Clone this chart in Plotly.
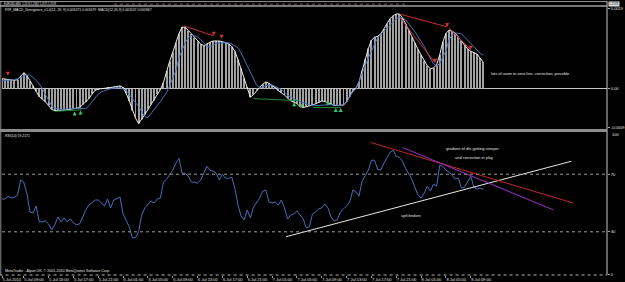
import plotly.graph_objects as go

# ---------------- data ----------------
bar_index = list(range(156))

# MACD main line / histogram, in units of 1e-4
macd_e4 = [2.40, 2.30, 2.21, 2.11, 2.02, 2.16, 3.00, 3.84, 3.22, 1.87,
           0.65, -0.60, -1.92, -2.54, -3.12, -4.08, -4.99, -5.28, -5.28, -5.28,
           -5.16, -5.09, -4.99, -4.85, -4.70, -4.56, -3.84, -3.22, -2.40, -1.30,
           -0.41, -0.10, 0.05, 0.12, 0.19, 0.29, 0.43, 0.55, 0.67, 0.26,
           -1.15, -2.95, -5.28, -7.08, -8.40, -7.44, -6.24, -5.04, -3.84, -2.83,
           -1.30, -0.24, 1.44, 4.32, 6.60, 8.76, 11.04, 13.27, 14.83, 14.78,
           14.04, 13.20, 12.24, 11.35, 10.75, 10.34, 10.80, 11.18, 11.47, 11.52,
           11.47, 11.33, 11.09, 10.80, 10.18, 8.98, 7.03, 4.85, 2.54, 0.31,
           -2.04, -1.44, -0.41, 0.34, 1.08, 1.61, 1.30, 0.86, 0.24, -0.48,
           -0.96, -1.54, -2.28, -2.93, -3.24, -3.58, -4.32, -4.51, -4.37, -4.20,
           -3.91, -3.65, -3.31, -2.98, -3.07, -3.36, -3.70, -4.03, -4.08, -4.08,
           -3.96, -3.12, -1.92, -0.48, 0.14, 1.63, 4.32, 7.10, 9.65, 11.66,
           12.38, 12.60, 13.20, 14.40, 15.65, 16.87, 17.57, 18.00, 18.00, 17.11,
           15.65, 14.04, 12.41, 10.99, 9.48, 8.11, 6.72, 5.52, 4.80, 5.02,
           5.76, 8.16, 11.28, 13.32, 14.09, 13.85, 13.34, 12.48, 11.52, 10.46,
           9.58, 9.02, 8.71, 8.35, 7.39, 6.41]

# signal line, units of 1e-4
signal_e4 = [1.92, 1.97, 2.04, 2.09, 2.16, 2.40, 2.71, 3.02, 3.22, 3.34,
             2.74, 1.99, 1.10, 0.00, -1.44, -2.81, -4.08, -4.68, -4.92, -5.04,
             -4.92, -4.85, -4.80, -4.80, -4.80, -4.80, -4.80, -4.80, -4.08, -3.12,
             -2.16, -1.32, -0.77, -0.48, -0.17, 0.02, 0.12, 0.19, 0.24, -0.07,
             -0.48, -1.44, -2.54, -3.36, -4.32, -5.52, -6.72, -6.96, -6.00, -5.28,
             -4.32, -3.12, -2.04, -0.96, 0.72, 2.40, 4.32, 7.44, 9.36, 11.04,
             12.24, 12.84, 12.84, 12.48, 11.81, 11.04, 10.20, 10.08, 10.56, 10.92,
             11.04, 11.04, 11.04, 11.04, 10.73, 10.32, 9.84, 8.64, 7.08, 5.64,
             4.18, 2.40, 0.84, 0.24, 0.48, 0.70, 0.82, 0.91, 0.58, 0.26,
             -0.19, -0.84, -1.58, -1.99, -2.45, -2.78, -3.07, -3.36, -3.67, -3.91,
             -3.98, -4.06, -4.08, -3.98, -3.91, -3.84, -3.84, -3.91, -3.98, -4.08,
             -3.72, -3.24, -1.92, -0.72, -0.12, 1.80, 3.60, 5.76, 7.44, 9.00,
             10.66, 12.24, 13.08, 13.92, 14.52, 15.26, 16.08, 16.80, 17.16, 17.11,
             16.56, 15.72, 14.71, 13.73, 12.53, 11.35, 10.20, 8.64, 7.20, 6.00,
             5.52, 6.00, 7.68, 9.12, 11.76, 12.96, 13.44, 13.32, 13.20, 12.48,
             11.64, 10.80, 9.96, 9.12, 8.52, 8.04]

rsi_values = [52.8, 52.8, 54.8, 53.4, 54.1, 55.5, 65.9, 64.5, 56.9, 43.8,
              43.1, 47.9, 36.9, 36.9, 37.6, 35.5, 31.4, 34.8, 40.3, 36.9,
              39.7, 36.9, 39.0, 36.2, 34.8, 35.5, 40.3, 45.2, 48.6, 50.7,
              52.1, 52.1, 50.0, 47.9, 52.8, 46.6, 52.1, 53.4, 54.1, 42.4,
              38.3, 33.4, 25.9, 25.9, 30.0, 41.7, 46.6, 49.3, 51.4, 50.0,
              52.8, 53.4, 64.5, 66.6, 69.3, 72.8, 77.6, 81.0, 70.7, 70.7,
              68.6, 64.5, 64.5, 63.8, 65.9, 70.7, 75.5, 72.8, 72.1, 70.7,
              65.9, 70.0, 67.2, 67.2, 67.9, 60.3, 48.6, 41.0, 38.3, 45.2,
              39.7, 47.2, 50.0, 53.4, 58.3, 59.0, 50.7, 50.0, 50.7, 48.6,
              52.1, 46.6, 39.0, 41.7, 42.4, 44.5, 41.7, 39.0, 32.8, 33.4,
              42.4, 43.8, 45.9, 46.6, 49.3, 46.6, 40.3, 37.6, 38.3, 43.8,
              45.9, 47.9, 50.7, 59.0, 57.6, 54.8, 65.2, 69.3, 72.8, 79.7,
              79.7, 73.4, 72.8, 77.6, 81.7, 85.2, 86.6, 82.4, 81.7, 79.0,
              74.1, 70.7, 66.6, 61.0, 55.5, 53.4, 56.9, 61.7, 58.3, 63.1,
              61.7, 76.2, 75.5, 72.8, 71.4, 69.3, 66.6, 67.2, 60.3, 61.0,
              64.5, 68.6, 61.0, 59.7, 60.3, 59.7]

tick_idx = [0, 7, 15, 23, 31, 39, 47, 55, 63, 71, 79, 87, 95, 103, 111, 119, 127, 135, 143, 151]
tick_text = ["5 Jul 2010", "5 Jul 09:00", "5 Jul 13:00", "5 Jul 17:00", "5 Jul 21:00",
             "6 Jul 01:00", "6 Jul 05:00", "6 Jul 09:00", "6 Jul 13:00", "6 Jul 17:00",
             "6 Jul 21:00", "7 Jul 01:00", "7 Jul 05:00", "7 Jul 09:00", "7 Jul 13:00",
             "7 Jul 17:00", "7 Jul 21:00", "8 Jul 01:00", "8 Jul 05:00", "8 Jul 09:00"]

macd_ticks = [0.00192, 0.0, -0.00094]
macd_tick_text = ["0.0019", "0.00", "-0.0009"]
rsi_ticks = [70, 30, 0]
rsi_tick_text = ["70", "30", "0"]
rsi_top_label = "100"
rsi_levels = [70, 30]

# hand-drawn trend lines on RSI (bar index, RSI value)
rsi_white_x = [91.5, 183.4]
rsi_white_y = [26.6, 79.0]
rsi_red_x = [118.7, 184.0]
rsi_red_y = [92.1, 50.0]
rsi_mag_x = [129.0, 177.6]
rsi_mag_y = [88.6, 45.2]

# divergence lines on MACD (bar index, value e-4)
macd_red_x = [[58.6, 68.2], [128.0, 143.4], [128.3, 139.5], [144.0, 151.0]]
macd_red_y = [[15.12, 12.72], [18.0, 14.88], [17.04, 6.24], [14.64, 9.36]]
macd_green_x = [[17.0, 25.6], [81.0, 95.4], [100.2, 109.1]]
macd_green_y = [[-5.45, -5.11], [-2.40, -2.88], [-4.56, -4.56]]
red_arrow_x = [1.9, 68.2, 70.7, 143.4, 139.5, 151.0]
red_arrow_y = [3.12, 12.72, 12.00, 14.88, 6.24, 9.36]
green_arrow_x = [23.4, 25.3, 94.1, 96.3, 105.0, 107.5, 109.1]
green_arrow_y = [-5.52, -5.28, -3.29, -3.43, -2.88, -4.64, -4.64]

# ---------------- figure ----------------
FONT = "Liberation Sans, Arial, sans-serif"
TXT = "#e4e4e4"
BLUE = "#4472b8"

macd = [v * 1e-4 for v in macd_e4]
signal = [v * 1e-4 for v in signal_e4]

fig = go.Figure()

fig.add_trace(go.Bar(x=bar_index, y=macd, yaxis="y2", width=0.32,
                     marker=dict(color="#a0a0a0", line=dict(width=0))))
fig.add_trace(go.Scatter(x=bar_index, y=macd, yaxis="y2", mode="lines",
                         line=dict(color="#ececec", width=1)))
fig.add_trace(go.Scatter(x=bar_index, y=signal, yaxis="y2", mode="lines",
                         line=dict(color=BLUE, width=1)))

for xs, ys in zip(macd_red_x, macd_red_y):
    fig.add_trace(go.Scatter(x=xs, y=[v * 1e-4 for v in ys], yaxis="y2", mode="lines",
                             line=dict(color="#c83030", width=1)))
for xs, ys in zip(macd_green_x, macd_green_y):
    fig.add_trace(go.Scatter(x=xs, y=[v * 1e-4 for v in ys], yaxis="y2", mode="lines",
                             line=dict(color="#1f8a3a", width=1)))
fig.add_trace(go.Scatter(x=red_arrow_x, y=[v * 1e-4 for v in red_arrow_y], yaxis="y2",
                         mode="markers",
                         marker=dict(symbol="arrow-down", size=4, color="#e03030")))
fig.add_trace(go.Scatter(x=green_arrow_x, y=[v * 1e-4 for v in green_arrow_y], yaxis="y2",
                         mode="markers",
                         marker=dict(symbol="arrow-up", size=4, color="#33cc66")))

fig.add_trace(go.Scatter(x=bar_index, y=rsi_values, yaxis="y", mode="lines",
                         line=dict(color=BLUE, width=1)))
fig.add_trace(go.Scatter(x=rsi_white_x, y=rsi_white_y, yaxis="y", mode="lines",
                         line=dict(color="#e8e8e8", width=1)))
fig.add_trace(go.Scatter(x=rsi_red_x, y=rsi_red_y, yaxis="y", mode="lines",
                         line=dict(color="#c02828", width=1)))
fig.add_trace(go.Scatter(x=rsi_mag_x, y=rsi_mag_y, yaxis="y", mode="lines",
                         line=dict(color="#a030c8", width=1)))

shapes = []
for lv in rsi_levels:
    shapes.append(dict(type="line", xref="paper", yref="y", x0=0, x1=1, y0=lv, y1=lv,
                       line=dict(color="#9a9a9a", width=1, dash="dot")))
# frame / separators
shapes += [
    dict(type="line", xref="paper", yref="paper", x0=-0.002, x1=-0.002, y0=0, y1=0.998,
         line=dict(color="#8a8a8a", width=1)),
    dict(type="line", xref="paper", yref="paper", x0=1, x1=1, y0=0, y1=1.0,
         line=dict(color="#c8c8c8", width=1)),
    dict(type="line", xref="paper", yref="paper", x0=-0.004, x1=1, y0=0.5273, y1=0.5273,
         line=dict(color="#8c8c8c", width=3)),
    dict(type="line", xref="paper", yref="paper", x0=-0.004, x1=1, y0=0.9818, y1=0.9818,
         line=dict(color="#a0a0a0", width=1.5)),
    dict(type="line", xref="paper", yref="paper", x0=-0.004, x1=1, y0=0.998, y1=0.998,
         line=dict(color="#909090", width=1)),
    dict(type="line", xref="paper", yref="paper", x0=0.185, x1=0.67, y0=0.9885, y1=0.9885,
         line=dict(color="#7a5a5a", width=1, dash="dot")),
    dict(type="line", xref="paper", yref="paper", x0=-0.004, x1=1, y0=0, y1=0,
         line=dict(color="#b0b0b0", width=1, dash="dot")),
]

small = dict(family=FONT, size=4, color=TXT)
annotations = [
    dict(text="FXF_MACD_Divergence_v1.0(12, 26, 9) 0.001071 0.001679  MACD(12,26,9) 0.001107 0.001667",
         xref="paper", yref="paper", x=0, y=0.9673, xanchor="left", yanchor="middle",
         xshift=1, showarrow=False, font=dict(family=FONT, size=3.4, color=TXT)),
    dict(text="RSI(14) 59.2171", xref="paper", yref="paper", x=0, y=0.5091,
         xanchor="left", yanchor="middle", xshift=1, showarrow=False,
         font=dict(family=FONT, size=3.4, color=TXT)),
    dict(text="MetaTrader - Alpari UK, © 2001-2010 MetaQuotes Software Corp.",
         xref="paper", yref="paper", x=0, y=0.0145, xanchor="left", yanchor="middle",
         xshift=1, showarrow=False, font=dict(family=FONT, size=3.6, color=TXT)),
    dict(text="EURUSD,M30  1.2574 1.2582 1.2571 1.2578", xref="paper", yref="paper",
         x=0, y=0.9895, xanchor="left", yanchor="middle", xshift=1, showarrow=False,
         borderpad=0, font=dict(family=FONT, size=2.6, color=TXT)),
    dict(text="1.2578", xref="paper", yref="paper", x=1, y=0.9905, xanchor="left",
         yanchor="middle", xshift=1, showarrow=False, bgcolor="#e0e0e0", borderpad=0,
         font=dict(family=FONT, size=3, color="#000000")),
    dict(text=rsi_top_label, xref="paper", yref="y", x=1, y=100, xanchor="left",
         yanchor="middle", xshift=3, yshift=-3.5, showarrow=False, font=small),
    dict(text="lots of room to zero line, correction, possible", xref="x", yref="y2",
         x=156.8, y=0.00036, xanchor="left", yanchor="middle", showarrow=False, font=small),
    dict(text="gradient of dts getting steeper", xref="x", yref="y",
         x=151.7, y=87.9, xanchor="center", yanchor="middle", showarrow=False, font=small),
    dict(text="and correction in play", xref="x", yref="y",
         x=152.0, y=81.3, xanchor="center", yanchor="middle", showarrow=False, font=small),
    dict(text="uptl broken", xref="x", yref="y",
         x=128.0, y=41.5, xanchor="left", yanchor="middle", showarrow=False, font=small),
]

fig.update_layout(
    width=625, height=282,
    margin=dict(l=2, r=14, t=0, b=7),
    paper_bgcolor="#000000", plot_bgcolor="#000000",
    showlegend=False,
    font=dict(family=FONT, size=4, color=TXT),
    shapes=shapes, annotations=annotations,
    xaxis=dict(range=[0, 194.88], anchor="y", showgrid=False, zeroline=False,
               showline=False, tickmode="array", tickvals=tick_idx, ticktext=tick_text,
               ticks="outside", ticklen=2, tickcolor="#a0a0a0", tickwidth=1,
               tickangle=0, ticklabelposition="outside right",
               tickfont=dict(family=FONT, size=4, color=TXT)),
    yaxis=dict(domain=[0, 0.52545], range=[0, 100], side="right", showgrid=False,
               zeroline=False, showline=False, tickmode="array", tickvals=rsi_ticks,
               ticktext=rsi_tick_text, ticks="outside", ticklen=2, tickcolor="#a0a0a0",
               tickfont=dict(family=FONT, size=4, color=TXT)),
    yaxis2=dict(domain=[0.53455, 0.97818], range=[-0.00096, 0.001968], side="right",
                anchor="x", showgrid=False, zeroline=True, zerolinecolor="#c8c8c8",
                zerolinewidth=1, showline=False, tickmode="array", tickvals=macd_ticks,
                ticktext=macd_tick_text, ticks="outside", ticklen=2, tickcolor="#a0a0a0",
                tickfont=dict(family=FONT, size=4, color=TXT)),
)

fig.write_html("out.html")
